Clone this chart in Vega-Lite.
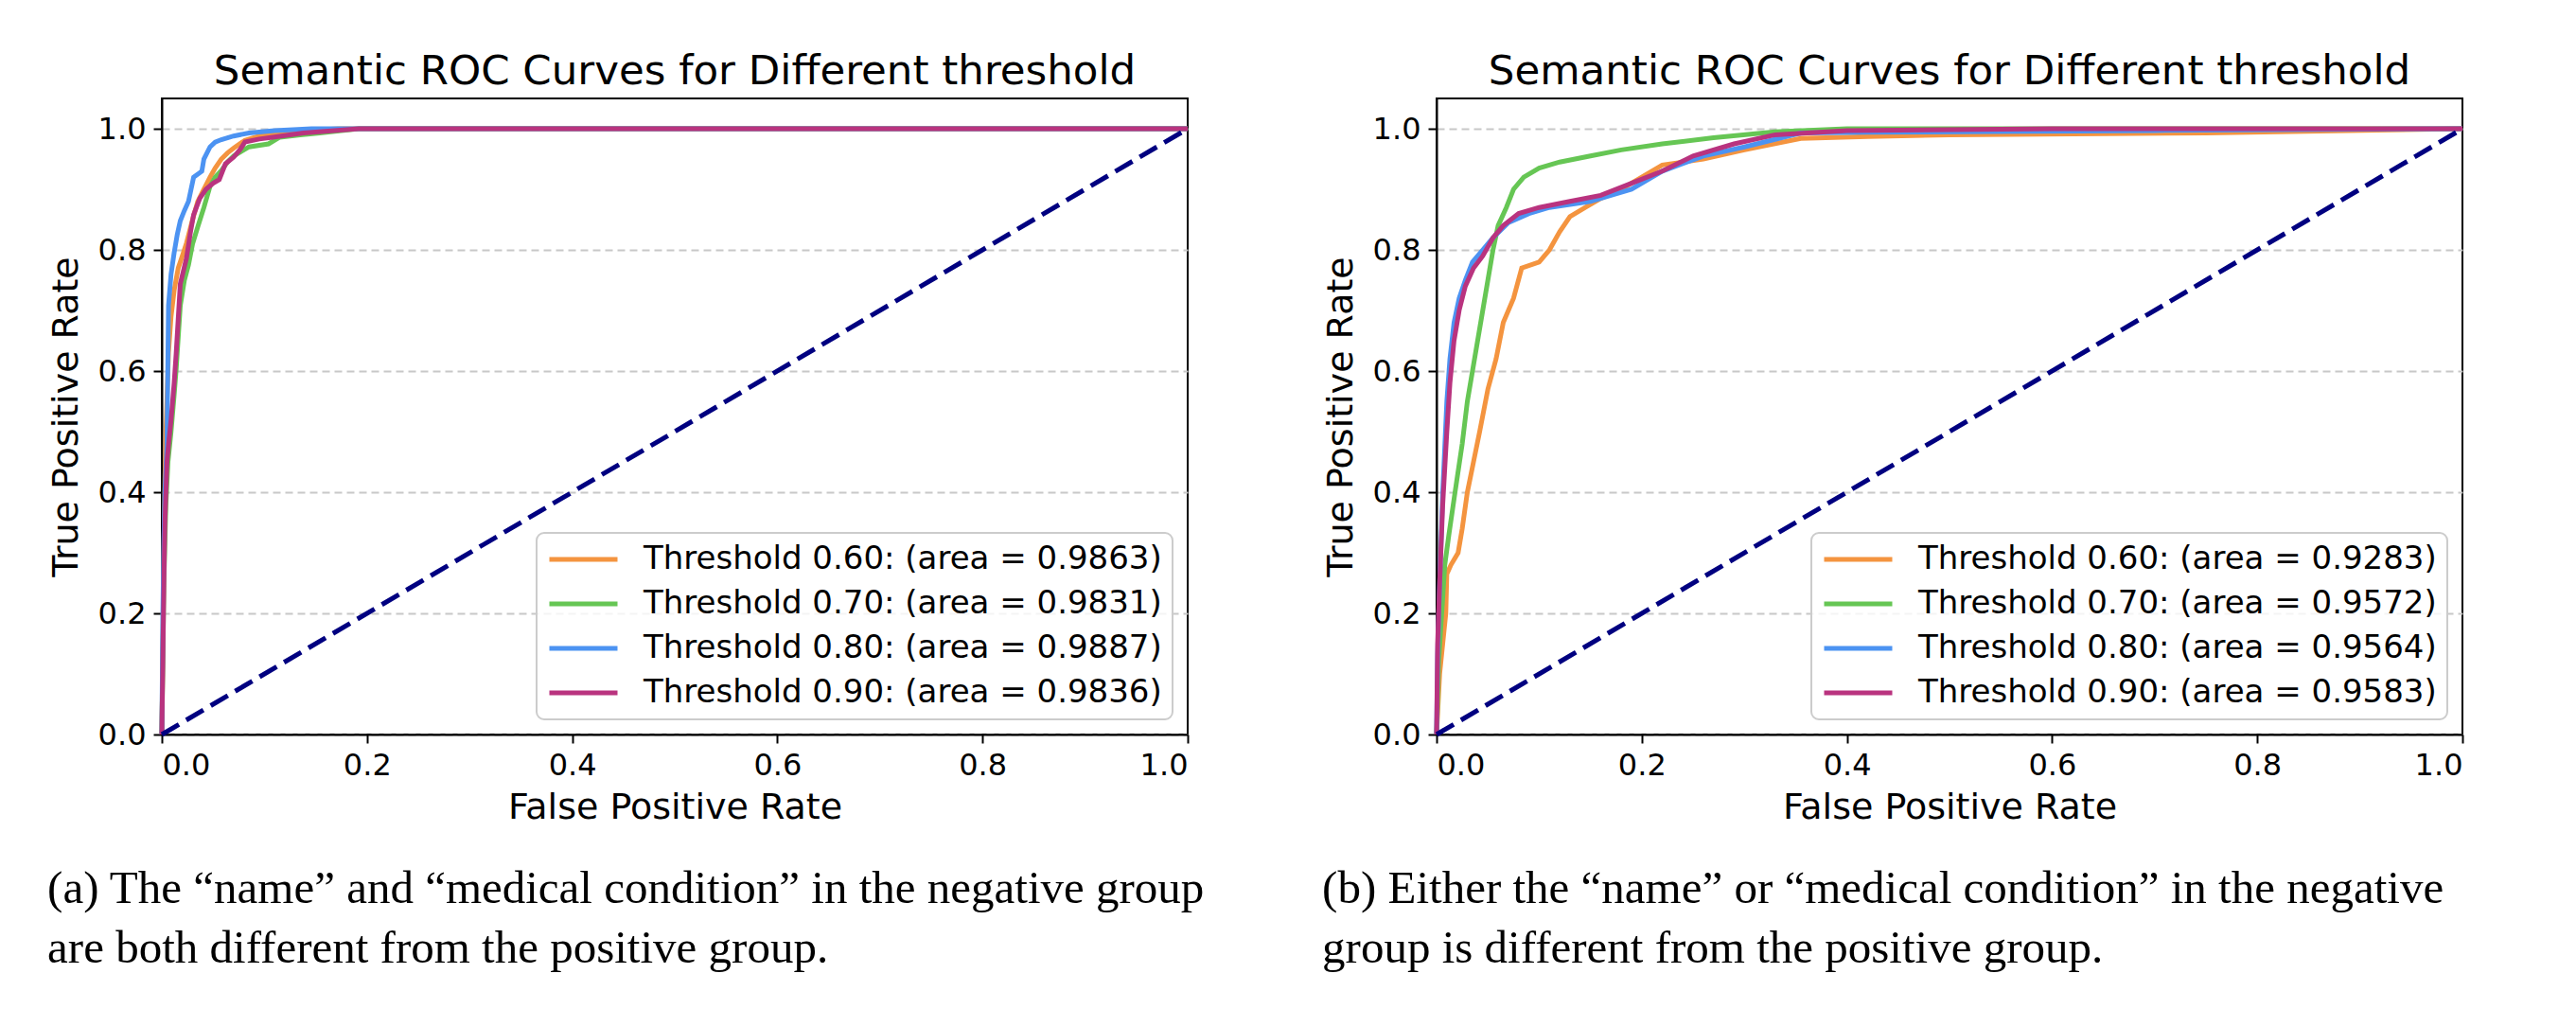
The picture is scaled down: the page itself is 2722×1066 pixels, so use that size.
{
  "$schema": "https://vega.github.io/schema/vega-lite/v6.json",
  "background": "white",
  "padding": {"left": 50, "top": 52, "right": 10, "bottom": 10},
  "config": {
    "view": {"stroke": "black", "strokeWidth": 2},
    "axis": {
      "labelFont": "DejaVu Sans", "labelFontSize": 32, "labelColor": "black",
      "titleFont": "DejaVu Sans", "titleFontSize": 38, "titleFontWeight": "normal", "titleColor": "black",
      "domainColor": "black", "domainWidth": 2, "tickColor": "black", "tickWidth": 2, "tickSize": 9,
      "labelPadding": 8, "grid": false
    },
    "title": {"font": "DejaVu Sans", "fontSize": 43.5, "fontWeight": "normal", "color": "black", "offset": 6},
    "legend": {
      "orient": "bottom-right", "offset": 16, "title": null,
      "symbolType": "stroke", "symbolSize": 5184, "symbolStrokeWidth": 5,
      "labelFont": "DejaVu Sans", "labelFontSize": 34, "labelColor": "black", "labelLimit": 0,
      "labelOffset": 25, "rowPadding": 13, "padding": 11, "clipHeight": 34,
      "fillColor": "rgba(255,255,255,0.8)", "strokeColor": "#cccccc", "strokeWidth": 2, "cornerRadius": 8
    }
  },
  "datasets": {
    "a": [
      {"label": "Threshold 0.60: (area = 0.9863)", "fpr": 0, "tpr": 0},
      {"label": "Threshold 0.60: (area = 0.9863)", "fpr": 0.001, "tpr": 0.15},
      {"label": "Threshold 0.60: (area = 0.9863)", "fpr": 0.002, "tpr": 0.3},
      {"label": "Threshold 0.60: (area = 0.9863)", "fpr": 0.003, "tpr": 0.42},
      {"label": "Threshold 0.60: (area = 0.9863)", "fpr": 0.004, "tpr": 0.5},
      {"label": "Threshold 0.60: (area = 0.9863)", "fpr": 0.0065, "tpr": 0.63},
      {"label": "Threshold 0.60: (area = 0.9863)", "fpr": 0.009, "tpr": 0.69},
      {"label": "Threshold 0.60: (area = 0.9863)", "fpr": 0.012, "tpr": 0.733},
      {"label": "Threshold 0.60: (area = 0.9863)", "fpr": 0.016, "tpr": 0.77},
      {"label": "Threshold 0.60: (area = 0.9863)", "fpr": 0.02, "tpr": 0.79},
      {"label": "Threshold 0.60: (area = 0.9863)", "fpr": 0.024, "tpr": 0.811},
      {"label": "Threshold 0.60: (area = 0.9863)", "fpr": 0.03, "tpr": 0.85},
      {"label": "Threshold 0.60: (area = 0.9863)", "fpr": 0.035, "tpr": 0.88},
      {"label": "Threshold 0.60: (area = 0.9863)", "fpr": 0.041, "tpr": 0.9},
      {"label": "Threshold 0.60: (area = 0.9863)", "fpr": 0.047, "tpr": 0.92},
      {"label": "Threshold 0.60: (area = 0.9863)", "fpr": 0.052, "tpr": 0.935},
      {"label": "Threshold 0.60: (area = 0.9863)", "fpr": 0.058, "tpr": 0.95},
      {"label": "Threshold 0.60: (area = 0.9863)", "fpr": 0.064, "tpr": 0.96},
      {"label": "Threshold 0.60: (area = 0.9863)", "fpr": 0.07, "tpr": 0.968},
      {"label": "Threshold 0.60: (area = 0.9863)", "fpr": 0.081, "tpr": 0.981},
      {"label": "Threshold 0.60: (area = 0.9863)", "fpr": 0.095, "tpr": 0.988},
      {"label": "Threshold 0.60: (area = 0.9863)", "fpr": 0.115, "tpr": 0.993},
      {"label": "Threshold 0.60: (area = 0.9863)", "fpr": 0.14, "tpr": 0.997},
      {"label": "Threshold 0.60: (area = 0.9863)", "fpr": 0.172, "tpr": 1.0},
      {"label": "Threshold 0.60: (area = 0.9863)", "fpr": 1, "tpr": 1.0},
      {"label": "Threshold 0.70: (area = 0.9831)", "fpr": 0, "tpr": 0},
      {"label": "Threshold 0.70: (area = 0.9831)", "fpr": 0.001, "tpr": 0.12},
      {"label": "Threshold 0.70: (area = 0.9831)", "fpr": 0.002, "tpr": 0.25},
      {"label": "Threshold 0.70: (area = 0.9831)", "fpr": 0.004, "tpr": 0.38},
      {"label": "Threshold 0.70: (area = 0.9831)", "fpr": 0.006, "tpr": 0.45},
      {"label": "Threshold 0.70: (area = 0.9831)", "fpr": 0.009, "tpr": 0.5},
      {"label": "Threshold 0.70: (area = 0.9831)", "fpr": 0.012, "tpr": 0.56},
      {"label": "Threshold 0.70: (area = 0.9831)", "fpr": 0.014, "tpr": 0.603},
      {"label": "Threshold 0.70: (area = 0.9831)", "fpr": 0.018, "tpr": 0.708},
      {"label": "Threshold 0.70: (area = 0.9831)", "fpr": 0.022, "tpr": 0.75},
      {"label": "Threshold 0.70: (area = 0.9831)", "fpr": 0.026, "tpr": 0.775},
      {"label": "Threshold 0.70: (area = 0.9831)", "fpr": 0.03, "tpr": 0.81},
      {"label": "Threshold 0.70: (area = 0.9831)", "fpr": 0.035, "tpr": 0.838},
      {"label": "Threshold 0.70: (area = 0.9831)", "fpr": 0.041, "tpr": 0.87},
      {"label": "Threshold 0.70: (area = 0.9831)", "fpr": 0.047, "tpr": 0.905},
      {"label": "Threshold 0.70: (area = 0.9831)", "fpr": 0.052, "tpr": 0.92},
      {"label": "Threshold 0.70: (area = 0.9831)", "fpr": 0.058, "tpr": 0.931},
      {"label": "Threshold 0.70: (area = 0.9831)", "fpr": 0.064, "tpr": 0.945},
      {"label": "Threshold 0.70: (area = 0.9831)", "fpr": 0.07, "tpr": 0.955},
      {"label": "Threshold 0.70: (area = 0.9831)", "fpr": 0.078, "tpr": 0.963},
      {"label": "Threshold 0.70: (area = 0.9831)", "fpr": 0.085, "tpr": 0.97},
      {"label": "Threshold 0.70: (area = 0.9831)", "fpr": 0.104, "tpr": 0.975},
      {"label": "Threshold 0.70: (area = 0.9831)", "fpr": 0.115, "tpr": 0.986},
      {"label": "Threshold 0.70: (area = 0.9831)", "fpr": 0.135, "tpr": 0.99},
      {"label": "Threshold 0.70: (area = 0.9831)", "fpr": 0.154, "tpr": 0.993},
      {"label": "Threshold 0.70: (area = 0.9831)", "fpr": 0.192, "tpr": 1.0},
      {"label": "Threshold 0.70: (area = 0.9831)", "fpr": 1, "tpr": 1.0},
      {"label": "Threshold 0.80: (area = 0.9887)", "fpr": 0, "tpr": 0},
      {"label": "Threshold 0.80: (area = 0.9887)", "fpr": 0.0005, "tpr": 0.1},
      {"label": "Threshold 0.80: (area = 0.9887)", "fpr": 0.001, "tpr": 0.2},
      {"label": "Threshold 0.80: (area = 0.9887)", "fpr": 0.002, "tpr": 0.32},
      {"label": "Threshold 0.80: (area = 0.9887)", "fpr": 0.003, "tpr": 0.4},
      {"label": "Threshold 0.80: (area = 0.9887)", "fpr": 0.005, "tpr": 0.478},
      {"label": "Threshold 0.80: (area = 0.9887)", "fpr": 0.0058, "tpr": 0.6},
      {"label": "Threshold 0.80: (area = 0.9887)", "fpr": 0.0065, "tpr": 0.708},
      {"label": "Threshold 0.80: (area = 0.9887)", "fpr": 0.009, "tpr": 0.76},
      {"label": "Threshold 0.80: (area = 0.9887)", "fpr": 0.012, "tpr": 0.795},
      {"label": "Threshold 0.80: (area = 0.9887)", "fpr": 0.015, "tpr": 0.825},
      {"label": "Threshold 0.80: (area = 0.9887)", "fpr": 0.018, "tpr": 0.848},
      {"label": "Threshold 0.80: (area = 0.9887)", "fpr": 0.022, "tpr": 0.865},
      {"label": "Threshold 0.80: (area = 0.9887)", "fpr": 0.026, "tpr": 0.88},
      {"label": "Threshold 0.80: (area = 0.9887)", "fpr": 0.031, "tpr": 0.92},
      {"label": "Threshold 0.80: (area = 0.9887)", "fpr": 0.036, "tpr": 0.926},
      {"label": "Threshold 0.80: (area = 0.9887)", "fpr": 0.039, "tpr": 0.93},
      {"label": "Threshold 0.80: (area = 0.9887)", "fpr": 0.041, "tpr": 0.95},
      {"label": "Threshold 0.80: (area = 0.9887)", "fpr": 0.044, "tpr": 0.96},
      {"label": "Threshold 0.80: (area = 0.9887)", "fpr": 0.047, "tpr": 0.97},
      {"label": "Threshold 0.80: (area = 0.9887)", "fpr": 0.052, "tpr": 0.978},
      {"label": "Threshold 0.80: (area = 0.9887)", "fpr": 0.058, "tpr": 0.982},
      {"label": "Threshold 0.80: (area = 0.9887)", "fpr": 0.07, "tpr": 0.988},
      {"label": "Threshold 0.80: (area = 0.9887)", "fpr": 0.085, "tpr": 0.993},
      {"label": "Threshold 0.80: (area = 0.9887)", "fpr": 0.11, "tpr": 0.997},
      {"label": "Threshold 0.80: (area = 0.9887)", "fpr": 0.146, "tpr": 1.0},
      {"label": "Threshold 0.80: (area = 0.9887)", "fpr": 1, "tpr": 1.0},
      {"label": "Threshold 0.90: (area = 0.9836)", "fpr": 0, "tpr": 0},
      {"label": "Threshold 0.90: (area = 0.9836)", "fpr": 0.001, "tpr": 0.12},
      {"label": "Threshold 0.90: (area = 0.9836)", "fpr": 0.002, "tpr": 0.25},
      {"label": "Threshold 0.90: (area = 0.9836)", "fpr": 0.003, "tpr": 0.35},
      {"label": "Threshold 0.90: (area = 0.9836)", "fpr": 0.005, "tpr": 0.45},
      {"label": "Threshold 0.90: (area = 0.9836)", "fpr": 0.0065, "tpr": 0.478},
      {"label": "Threshold 0.90: (area = 0.9836)", "fpr": 0.009, "tpr": 0.52},
      {"label": "Threshold 0.90: (area = 0.9836)", "fpr": 0.012, "tpr": 0.58},
      {"label": "Threshold 0.90: (area = 0.9836)", "fpr": 0.014, "tpr": 0.63},
      {"label": "Threshold 0.90: (area = 0.9836)", "fpr": 0.018, "tpr": 0.744},
      {"label": "Threshold 0.90: (area = 0.9836)", "fpr": 0.024, "tpr": 0.786},
      {"label": "Threshold 0.90: (area = 0.9836)", "fpr": 0.028, "tpr": 0.83},
      {"label": "Threshold 0.90: (area = 0.9836)", "fpr": 0.031, "tpr": 0.858},
      {"label": "Threshold 0.90: (area = 0.9836)", "fpr": 0.037, "tpr": 0.885},
      {"label": "Threshold 0.90: (area = 0.9836)", "fpr": 0.043, "tpr": 0.9},
      {"label": "Threshold 0.90: (area = 0.9836)", "fpr": 0.05, "tpr": 0.91},
      {"label": "Threshold 0.90: (area = 0.9836)", "fpr": 0.056, "tpr": 0.916},
      {"label": "Threshold 0.90: (area = 0.9836)", "fpr": 0.062, "tpr": 0.942},
      {"label": "Threshold 0.90: (area = 0.9836)", "fpr": 0.07, "tpr": 0.953},
      {"label": "Threshold 0.90: (area = 0.9836)", "fpr": 0.076, "tpr": 0.965},
      {"label": "Threshold 0.90: (area = 0.9836)", "fpr": 0.081, "tpr": 0.978},
      {"label": "Threshold 0.90: (area = 0.9836)", "fpr": 0.095, "tpr": 0.983},
      {"label": "Threshold 0.90: (area = 0.9836)", "fpr": 0.108, "tpr": 0.986},
      {"label": "Threshold 0.90: (area = 0.9836)", "fpr": 0.138, "tpr": 0.993},
      {"label": "Threshold 0.90: (area = 0.9836)", "fpr": 0.192, "tpr": 1.0},
      {"label": "Threshold 0.90: (area = 0.9836)", "fpr": 1, "tpr": 1.0}
    ],
    "b": [
      {"label": "Threshold 0.60: (area = 0.9283)", "fpr": 0, "tpr": 0},
      {"label": "Threshold 0.60: (area = 0.9283)", "fpr": 0.003, "tpr": 0.1},
      {"label": "Threshold 0.60: (area = 0.9283)", "fpr": 0.006, "tpr": 0.15},
      {"label": "Threshold 0.60: (area = 0.9283)", "fpr": 0.009, "tpr": 0.2},
      {"label": "Threshold 0.60: (area = 0.9283)", "fpr": 0.01, "tpr": 0.265},
      {"label": "Threshold 0.60: (area = 0.9283)", "fpr": 0.014, "tpr": 0.28},
      {"label": "Threshold 0.60: (area = 0.9283)", "fpr": 0.021, "tpr": 0.3},
      {"label": "Threshold 0.60: (area = 0.9283)", "fpr": 0.025, "tpr": 0.34},
      {"label": "Threshold 0.60: (area = 0.9283)", "fpr": 0.03, "tpr": 0.4},
      {"label": "Threshold 0.60: (area = 0.9283)", "fpr": 0.036, "tpr": 0.45},
      {"label": "Threshold 0.60: (area = 0.9283)", "fpr": 0.042, "tpr": 0.5},
      {"label": "Threshold 0.60: (area = 0.9283)", "fpr": 0.05, "tpr": 0.57},
      {"label": "Threshold 0.60: (area = 0.9283)", "fpr": 0.058, "tpr": 0.62},
      {"label": "Threshold 0.60: (area = 0.9283)", "fpr": 0.065, "tpr": 0.68},
      {"label": "Threshold 0.60: (area = 0.9283)", "fpr": 0.075, "tpr": 0.72},
      {"label": "Threshold 0.60: (area = 0.9283)", "fpr": 0.083, "tpr": 0.77},
      {"label": "Threshold 0.60: (area = 0.9283)", "fpr": 0.1, "tpr": 0.78},
      {"label": "Threshold 0.60: (area = 0.9283)", "fpr": 0.11, "tpr": 0.8},
      {"label": "Threshold 0.60: (area = 0.9283)", "fpr": 0.12, "tpr": 0.83},
      {"label": "Threshold 0.60: (area = 0.9283)", "fpr": 0.13, "tpr": 0.855},
      {"label": "Threshold 0.60: (area = 0.9283)", "fpr": 0.145, "tpr": 0.87},
      {"label": "Threshold 0.60: (area = 0.9283)", "fpr": 0.16, "tpr": 0.885},
      {"label": "Threshold 0.60: (area = 0.9283)", "fpr": 0.18, "tpr": 0.9},
      {"label": "Threshold 0.60: (area = 0.9283)", "fpr": 0.2, "tpr": 0.92},
      {"label": "Threshold 0.60: (area = 0.9283)", "fpr": 0.22, "tpr": 0.94},
      {"label": "Threshold 0.60: (area = 0.9283)", "fpr": 0.26, "tpr": 0.95},
      {"label": "Threshold 0.60: (area = 0.9283)", "fpr": 0.3, "tpr": 0.965},
      {"label": "Threshold 0.60: (area = 0.9283)", "fpr": 0.355, "tpr": 0.984},
      {"label": "Threshold 0.60: (area = 0.9283)", "fpr": 0.42, "tpr": 0.987},
      {"label": "Threshold 0.60: (area = 0.9283)", "fpr": 0.5, "tpr": 0.99},
      {"label": "Threshold 0.60: (area = 0.9283)", "fpr": 0.75, "tpr": 0.993},
      {"label": "Threshold 0.60: (area = 0.9283)", "fpr": 1, "tpr": 1.0},
      {"label": "Threshold 0.70: (area = 0.9572)", "fpr": 0, "tpr": 0},
      {"label": "Threshold 0.70: (area = 0.9572)", "fpr": 0.002, "tpr": 0.12},
      {"label": "Threshold 0.70: (area = 0.9572)", "fpr": 0.005, "tpr": 0.2},
      {"label": "Threshold 0.70: (area = 0.9572)", "fpr": 0.008, "tpr": 0.28},
      {"label": "Threshold 0.70: (area = 0.9572)", "fpr": 0.012, "tpr": 0.33},
      {"label": "Threshold 0.70: (area = 0.9572)", "fpr": 0.018, "tpr": 0.4},
      {"label": "Threshold 0.70: (area = 0.9572)", "fpr": 0.025, "tpr": 0.48},
      {"label": "Threshold 0.70: (area = 0.9572)", "fpr": 0.03, "tpr": 0.55},
      {"label": "Threshold 0.70: (area = 0.9572)", "fpr": 0.035, "tpr": 0.6},
      {"label": "Threshold 0.70: (area = 0.9572)", "fpr": 0.04, "tpr": 0.65},
      {"label": "Threshold 0.70: (area = 0.9572)", "fpr": 0.045, "tpr": 0.7},
      {"label": "Threshold 0.70: (area = 0.9572)", "fpr": 0.05, "tpr": 0.75},
      {"label": "Threshold 0.70: (area = 0.9572)", "fpr": 0.055, "tpr": 0.8},
      {"label": "Threshold 0.70: (area = 0.9572)", "fpr": 0.06, "tpr": 0.84},
      {"label": "Threshold 0.70: (area = 0.9572)", "fpr": 0.068, "tpr": 0.87},
      {"label": "Threshold 0.70: (area = 0.9572)", "fpr": 0.075, "tpr": 0.9},
      {"label": "Threshold 0.70: (area = 0.9572)", "fpr": 0.085, "tpr": 0.92},
      {"label": "Threshold 0.70: (area = 0.9572)", "fpr": 0.1, "tpr": 0.935},
      {"label": "Threshold 0.70: (area = 0.9572)", "fpr": 0.12, "tpr": 0.945},
      {"label": "Threshold 0.70: (area = 0.9572)", "fpr": 0.15, "tpr": 0.955},
      {"label": "Threshold 0.70: (area = 0.9572)", "fpr": 0.18, "tpr": 0.965},
      {"label": "Threshold 0.70: (area = 0.9572)", "fpr": 0.22, "tpr": 0.975},
      {"label": "Threshold 0.70: (area = 0.9572)", "fpr": 0.27, "tpr": 0.985},
      {"label": "Threshold 0.70: (area = 0.9572)", "fpr": 0.33, "tpr": 0.995},
      {"label": "Threshold 0.70: (area = 0.9572)", "fpr": 0.4, "tpr": 1.0},
      {"label": "Threshold 0.70: (area = 0.9572)", "fpr": 1, "tpr": 1.0},
      {"label": "Threshold 0.80: (area = 0.9564)", "fpr": 0, "tpr": 0},
      {"label": "Threshold 0.80: (area = 0.9564)", "fpr": 0.001, "tpr": 0.13},
      {"label": "Threshold 0.80: (area = 0.9564)", "fpr": 0.003, "tpr": 0.25},
      {"label": "Threshold 0.80: (area = 0.9564)", "fpr": 0.006, "tpr": 0.4},
      {"label": "Threshold 0.80: (area = 0.9564)", "fpr": 0.01, "tpr": 0.55},
      {"label": "Threshold 0.80: (area = 0.9564)", "fpr": 0.013, "tpr": 0.62},
      {"label": "Threshold 0.80: (area = 0.9564)", "fpr": 0.017, "tpr": 0.68},
      {"label": "Threshold 0.80: (area = 0.9564)", "fpr": 0.022, "tpr": 0.72},
      {"label": "Threshold 0.80: (area = 0.9564)", "fpr": 0.028, "tpr": 0.75},
      {"label": "Threshold 0.80: (area = 0.9564)", "fpr": 0.035, "tpr": 0.78},
      {"label": "Threshold 0.80: (area = 0.9564)", "fpr": 0.045, "tpr": 0.8},
      {"label": "Threshold 0.80: (area = 0.9564)", "fpr": 0.055, "tpr": 0.82},
      {"label": "Threshold 0.80: (area = 0.9564)", "fpr": 0.07, "tpr": 0.845},
      {"label": "Threshold 0.80: (area = 0.9564)", "fpr": 0.09, "tpr": 0.86},
      {"label": "Threshold 0.80: (area = 0.9564)", "fpr": 0.11, "tpr": 0.87},
      {"label": "Threshold 0.80: (area = 0.9564)", "fpr": 0.13, "tpr": 0.875},
      {"label": "Threshold 0.80: (area = 0.9564)", "fpr": 0.15, "tpr": 0.88},
      {"label": "Threshold 0.80: (area = 0.9564)", "fpr": 0.17, "tpr": 0.89},
      {"label": "Threshold 0.80: (area = 0.9564)", "fpr": 0.19, "tpr": 0.9},
      {"label": "Threshold 0.80: (area = 0.9564)", "fpr": 0.22, "tpr": 0.93},
      {"label": "Threshold 0.80: (area = 0.9564)", "fpr": 0.26, "tpr": 0.955},
      {"label": "Threshold 0.80: (area = 0.9564)", "fpr": 0.3, "tpr": 0.97},
      {"label": "Threshold 0.80: (area = 0.9564)", "fpr": 0.355, "tpr": 0.993},
      {"label": "Threshold 0.80: (area = 0.9564)", "fpr": 0.42, "tpr": 0.994},
      {"label": "Threshold 0.80: (area = 0.9564)", "fpr": 0.7, "tpr": 0.997},
      {"label": "Threshold 0.80: (area = 0.9564)", "fpr": 1, "tpr": 1.0},
      {"label": "Threshold 0.90: (area = 0.9583)", "fpr": 0, "tpr": 0},
      {"label": "Threshold 0.90: (area = 0.9583)", "fpr": 0.001, "tpr": 0.15},
      {"label": "Threshold 0.90: (area = 0.9583)", "fpr": 0.003, "tpr": 0.25},
      {"label": "Threshold 0.90: (area = 0.9583)", "fpr": 0.006, "tpr": 0.38},
      {"label": "Threshold 0.90: (area = 0.9583)", "fpr": 0.01, "tpr": 0.5},
      {"label": "Threshold 0.90: (area = 0.9583)", "fpr": 0.013, "tpr": 0.58},
      {"label": "Threshold 0.90: (area = 0.9583)", "fpr": 0.017, "tpr": 0.65},
      {"label": "Threshold 0.90: (area = 0.9583)", "fpr": 0.022, "tpr": 0.7},
      {"label": "Threshold 0.90: (area = 0.9583)", "fpr": 0.028, "tpr": 0.74},
      {"label": "Threshold 0.90: (area = 0.9583)", "fpr": 0.036, "tpr": 0.77},
      {"label": "Threshold 0.90: (area = 0.9583)", "fpr": 0.045, "tpr": 0.79},
      {"label": "Threshold 0.90: (area = 0.9583)", "fpr": 0.055, "tpr": 0.82},
      {"label": "Threshold 0.90: (area = 0.9583)", "fpr": 0.065, "tpr": 0.84},
      {"label": "Threshold 0.90: (area = 0.9583)", "fpr": 0.08, "tpr": 0.86},
      {"label": "Threshold 0.90: (area = 0.9583)", "fpr": 0.1, "tpr": 0.87},
      {"label": "Threshold 0.90: (area = 0.9583)", "fpr": 0.13, "tpr": 0.88},
      {"label": "Threshold 0.90: (area = 0.9583)", "fpr": 0.16, "tpr": 0.89},
      {"label": "Threshold 0.90: (area = 0.9583)", "fpr": 0.19, "tpr": 0.91},
      {"label": "Threshold 0.90: (area = 0.9583)", "fpr": 0.22, "tpr": 0.93},
      {"label": "Threshold 0.90: (area = 0.9583)", "fpr": 0.25, "tpr": 0.955},
      {"label": "Threshold 0.90: (area = 0.9583)", "fpr": 0.29, "tpr": 0.975},
      {"label": "Threshold 0.90: (area = 0.9583)", "fpr": 0.33, "tpr": 0.99},
      {"label": "Threshold 0.90: (area = 0.9583)", "fpr": 0.4, "tpr": 0.997},
      {"label": "Threshold 0.90: (area = 0.9583)", "fpr": 0.6, "tpr": 1.0},
      {"label": "Threshold 0.90: (area = 0.9583)", "fpr": 1, "tpr": 1.0}
    ],
    "diag": [
      {"fpr": 0, "tpr": 0},
      {"fpr": 1, "tpr": 1}
    ]
  },
  "hconcat": [
    {
      "title": {
        "text": ["(a) The “name” and “medical condition” in the negative group", "are both different from the positive group."],
        "orient": "bottom", "anchor": "start", "frame": "bounds",
        "font": "Liberation Serif", "fontSize": 49, "lineHeight": 63, "offset": 42
      },
      "resolve": {"scale": {"color": "independent"}, "legend": {"color": "independent"}},
      "vconcat": [
        {
          "width": 1084, "height": 672,
          "title": {"text": "Semantic ROC Curves for Different threshold"},
          "layer": [
            {
              "data": {"name": "a"},
              "mark": {"type": "line", "strokeWidth": 5},
              "encoding": {
                "x": {"field": "fpr", "type": "quantitative", "scale": {"domain": [0, 1], "nice": false, "zero": false},
                      "axis": {"title": "False Positive Rate", "values": [0, 0.2, 0.4, 0.6, 0.8, 1.0], "format": ".1f", "titlePadding": 10}},
                "y": {"field": "tpr", "type": "quantitative", "scale": {"domain": [0, 1.05], "nice": false},
                      "axis": {"title": "True Positive Rate", "values": [0, 0.2, 0.4, 0.6, 0.8, 1.0], "format": ".1f", "titlePadding": 14,
                               "grid": true, "gridColor": "#c8c8c8", "gridDash": [8, 5], "gridWidth": 2}},
                "color": {"field": "label", "type": "nominal",
                          "scale": {"domain": ["Threshold 0.60: (area = 0.9863)", "Threshold 0.70: (area = 0.9831)", "Threshold 0.80: (area = 0.9887)", "Threshold 0.90: (area = 0.9836)"],
                                    "range": ["#F4943F", "#66C654", "#4C93F2", "#B9337F"]}},
                "order": [{"field": "fpr", "type": "quantitative"}, {"field": "tpr", "type": "quantitative"}]
              }
            },
            {
              "data": {"name": "diag"},
              "mark": {"type": "line", "color": "#000080", "strokeWidth": 5, "strokeDash": [21, 9]},
              "encoding": {
                "x": {"field": "fpr", "type": "quantitative"},
                "y": {"field": "tpr", "type": "quantitative"}
              }
            }
          ]
        }
      ]
    },
    {
      "title": {
        "text": ["(b) Either the “name” or “medical condition” in the negative", "group is different from the positive group."],
        "orient": "bottom", "anchor": "start", "frame": "bounds",
        "font": "Liberation Serif", "fontSize": 49, "lineHeight": 63, "offset": 42
      },
      "resolve": {"scale": {"color": "independent"}, "legend": {"color": "independent"}},
      "vconcat": [
        {
          "width": 1084, "height": 672,
          "title": {"text": "Semantic ROC Curves for Different threshold"},
          "layer": [
            {
              "data": {"name": "b"},
              "mark": {"type": "line", "strokeWidth": 5},
              "encoding": {
                "x": {"field": "fpr", "type": "quantitative", "scale": {"domain": [0, 1], "nice": false, "zero": false},
                      "axis": {"title": "False Positive Rate", "values": [0, 0.2, 0.4, 0.6, 0.8, 1.0], "format": ".1f", "titlePadding": 10}},
                "y": {"field": "tpr", "type": "quantitative", "scale": {"domain": [0, 1.05], "nice": false},
                      "axis": {"title": "True Positive Rate", "values": [0, 0.2, 0.4, 0.6, 0.8, 1.0], "format": ".1f", "titlePadding": 14,
                               "grid": true, "gridColor": "#c8c8c8", "gridDash": [8, 5], "gridWidth": 2}},
                "color": {"field": "label", "type": "nominal",
                          "scale": {"domain": ["Threshold 0.60: (area = 0.9283)", "Threshold 0.70: (area = 0.9572)", "Threshold 0.80: (area = 0.9564)", "Threshold 0.90: (area = 0.9583)"],
                                    "range": ["#F4943F", "#66C654", "#4C93F2", "#B9337F"]}},
                "order": [{"field": "fpr", "type": "quantitative"}, {"field": "tpr", "type": "quantitative"}]
              }
            },
            {
              "data": {"name": "diag"},
              "mark": {"type": "line", "color": "#000080", "strokeWidth": 5, "strokeDash": [21, 9]},
              "encoding": {
                "x": {"field": "fpr", "type": "quantitative"},
                "y": {"field": "tpr", "type": "quantitative"}
              }
            }
          ]
        }
      ]
    }
  ],
  "spacing": 123,
  "resolve": {"scale": {"color": "independent"}, "legend": {"color": "independent"}}
}
